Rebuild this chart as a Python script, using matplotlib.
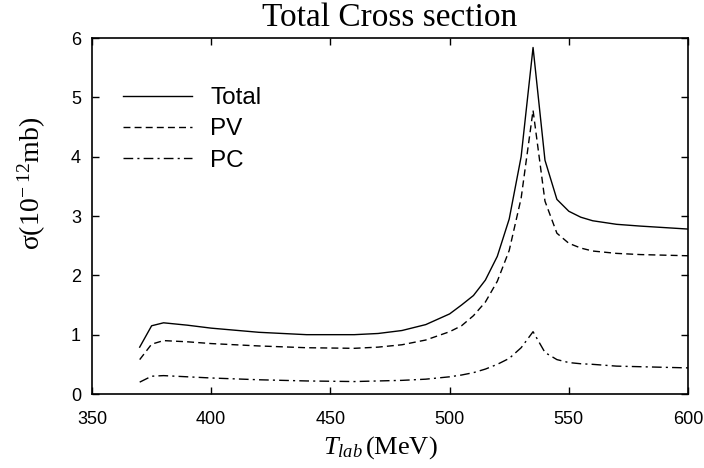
import matplotlib
matplotlib.use('Agg')
import matplotlib.pyplot as plt

# energy grid (MeV) and cross sections (1e-12 mb)
t_lab = [370, 375, 380, 390, 400, 420, 440, 460, 470, 480, 490, 500, 505, 510,
         515, 520, 525, 530, 535, 540, 545, 550, 555, 560, 570, 580, 600]
sigma_total = [0.79, 1.15, 1.20, 1.16, 1.11, 1.04, 1.00, 1.00, 1.02, 1.07, 1.17,
               1.35, 1.50, 1.66, 1.92, 2.32, 2.95, 4.00, 5.84, 3.94, 3.28, 3.08,
               2.98, 2.92, 2.86, 2.83, 2.78]
sigma_pv = [0.58, 0.84, 0.90, 0.88, 0.85, 0.81, 0.78, 0.77, 0.79, 0.83, 0.91,
            1.05, 1.15, 1.32, 1.55, 1.90, 2.42, 3.30, 4.78, 3.25, 2.71, 2.54,
            2.46, 2.41, 2.37, 2.35, 2.33]
sigma_pc = [0.20, 0.30, 0.31, 0.29, 0.27, 0.24, 0.22, 0.21, 0.22, 0.23, 0.25,
            0.29, 0.32, 0.36, 0.42, 0.50, 0.60, 0.78, 1.05, 0.70, 0.58, 0.53,
            0.51, 0.50, 0.47, 0.46, 0.44]

plt.rcParams['font.family'] = 'Liberation Sans'
plt.rcParams['mathtext.fontset'] = 'custom'
plt.rcParams['mathtext.rm'] = 'Liberation Serif'
plt.rcParams['mathtext.it'] = 'Liberation Serif:italic'

fig = plt.figure(figsize=(7.04, 4.68), dpi=100)
ax = fig.add_axes([0.1307, 0.1581, 0.8466, 0.7607])

ax.plot(t_lab, sigma_total, color='black', lw=1.0, ls='-', label='Total')
ax.plot(t_lab, sigma_pv, color='black', lw=1.0, ls=(0, (5, 3)), label='PV')
ax.plot(t_lab, sigma_pc, color='black', lw=1.0, ls=(0, (7, 3, 1.5, 3)), label='PC')

ax.set_xlim(350, 600)
ax.set_ylim(0, 6)
ax.set_xticks([350, 400, 450, 500, 550, 600])
ax.set_yticks([0, 1, 2, 3, 4, 5, 6])
ax.tick_params(direction='in', top=True, right=True, labelsize=13, length=5, width=1)
ax.tick_params(axis='x', pad=12)
ax.tick_params(axis='y', pad=8)
for s in ax.spines.values():
    s.set_linewidth(1.2)

ax.set_title('Total Cross section', family='Liberation Serif', fontsize=24, pad=9)
ax.set_xlabel(r'$T_{lab}\,\mathrm{(MeV)}$', fontsize=19)
ax.xaxis.set_label_coords(0.483, -0.113)
ax.set_ylabel('σ(10$^{-\\ 12}$mb)', family='Liberation Serif', fontsize=20)
ax.yaxis.set_label_coords(-0.074, 0.593)

ax.legend(loc='upper left', bbox_to_anchor=(0.052, 0.862), frameon=False,
          fontsize=17.5, handlelength=2.85, handletextpad=0.74, labelspacing=0.38,
          borderpad=0, borderaxespad=0)

fig.savefig('out.png', dpi=100)
